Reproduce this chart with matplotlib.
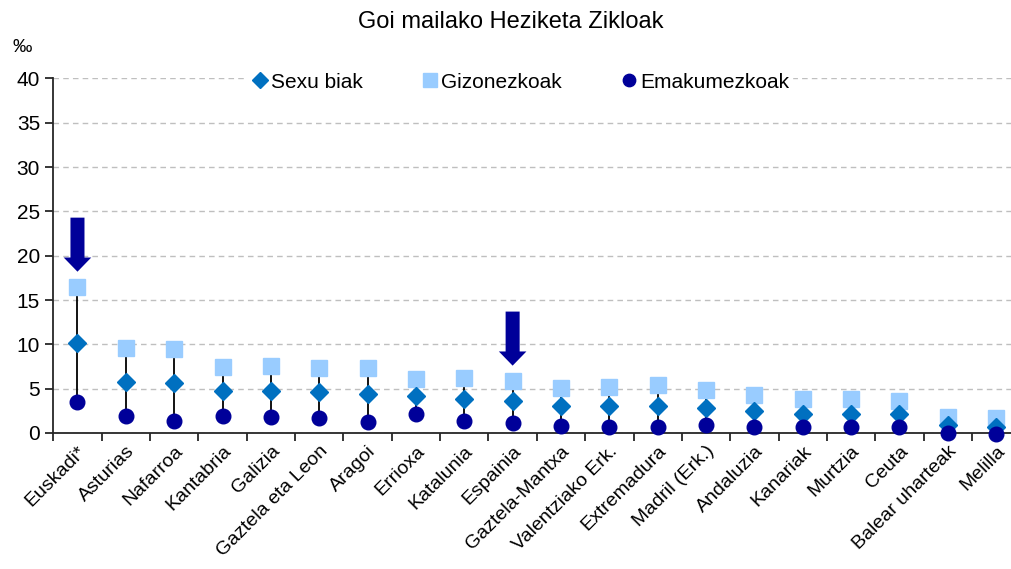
import numpy as np
import matplotlib
matplotlib.use("Agg")
import matplotlib.pyplot as plt

plt.rcParams['font.family'] = ['Liberation Sans', 'DejaVu Sans']

# data (per mille)
regions = ["Euskadi*", "Asturias", "Nafarroa", "Kantabria", "Galizia",
           "Gaztela eta Leon", "Aragoi", "Errioxa", "Katalunia", "Espainia",
           "Gaztela-Mantxa", "Valentziako Erk.", "Extremadura", "Madril (Erk.)",
           "Andaluzia", "Kanariak", "Murtzia", "Ceuta", "Balear uharteak", "Melilla"]
both = [10.1, 5.8, 5.6, 4.7, 4.7, 4.6, 4.4, 4.2, 3.8, 3.6,
        3.1, 3.0, 3.1, 2.8, 2.5, 2.2, 2.2, 2.15, 0.9, 0.7]
men = [16.5, 9.6, 9.5, 7.5, 7.6, 7.3, 7.3, 6.1, 6.2, 5.9,
       5.05, 5.2, 5.4, 4.8, 4.3, 3.8, 3.8, 3.65, 1.85, 1.65]
women = [3.5, 1.9, 1.4, 1.9, 1.8, 1.7, 1.2, 2.1, 1.3, 1.1,
         0.8, 0.7, 0.65, 0.9, 0.65, 0.7, 0.65, 0.65, 0.0, -0.1]
highlight = ["Euskadi*", "Espainia"]

c_both = "#0070C0"
c_men = "#99CCFF"
c_women = "#000099"

fig = plt.figure(figsize=(10.12, 5.69), dpi=100)
ax = fig.add_axes([53.3/1012, 136/569, 967/1012, 354.5/569])

x = np.arange(len(regions))
ax.vlines(x, np.minimum(women, men), np.maximum(women, men), color="black", lw=1.3, zorder=2)
ax.plot(x, men, 's', color=c_men, ms=11.5, label="Gizonezkoak", zorder=3, clip_on=False)
ax.plot(x, both, 'D', color=c_both, ms=9.5, label="Sexu biak", zorder=4, clip_on=False)
ax.plot(x, women, 'o', color=c_women, ms=10.5, label="Emakumezkoak", zorder=5, clip_on=False)

# arrows over highlighted regions
for name in highlight:
    i = regions.index(name)
    top = men[i] + 7.8
    tip = men[i] + 1.7
    ax.arrow(i, top, 0, tip - top, width=0.29, head_width=0.57, head_length=1.6,
             length_includes_head=True, color=c_women, lw=0, zorder=6)

ax.set_xlim(-0.5, len(regions) - 0.5)
ax.set_ylim(0, 40)
ax.set_yticks(np.arange(0, 41, 5))
ax.yaxis.grid(True, ls=(0, (4, 3)), color="#BFBFBF", lw=1)
ax.set_axisbelow(True)
ax.set_xticks(x)
ax.set_xticklabels(regions, rotation=45, ha="right", rotation_mode="anchor", fontsize=14)
ax.set_xticks(np.arange(-0.5, len(regions), 1), minor=True)
ax.tick_params(axis="x", which="major", length=0, pad=7)
ax.tick_params(axis="x", which="minor", length=6, width=1.3, direction="out", color="#262626")
ax.tick_params(axis="y", labelsize=15, length=6, width=1.3, color="#262626")
for s in ["top", "right"]:
    ax.spines[s].set_visible(False)
for s in ["left", "bottom"]:
    ax.spines[s].set_linewidth(1.3)
    ax.spines[s].set_color("#262626")

h, l = ax.get_legend_handles_labels()
order = [1, 0, 2]
leg = ax.legend([h[k] for k in order], [l[k] for k in order], loc="center",
                bbox_to_anchor=(0.482, 0.99), ncol=3, frameon=True, fontsize=15,
                handletextpad=0.05, columnspacing=2.7, handlelength=1.0,
                borderpad=0.15, borderaxespad=0, markerscale=0.85)
leg.get_frame().set_facecolor("white")
leg.get_frame().set_edgecolor("white")
leg.get_frame().set_alpha(1)

fig.text(0.505, 1 - 22/569, "Goi mailako Heziketa Zikloak", ha="center", va="center", fontsize=17)
fig.text(22/1012, 1 - 48/569, "‰", ha="center", va="center", fontsize=14)

fig.savefig("out.png", dpi=100)
